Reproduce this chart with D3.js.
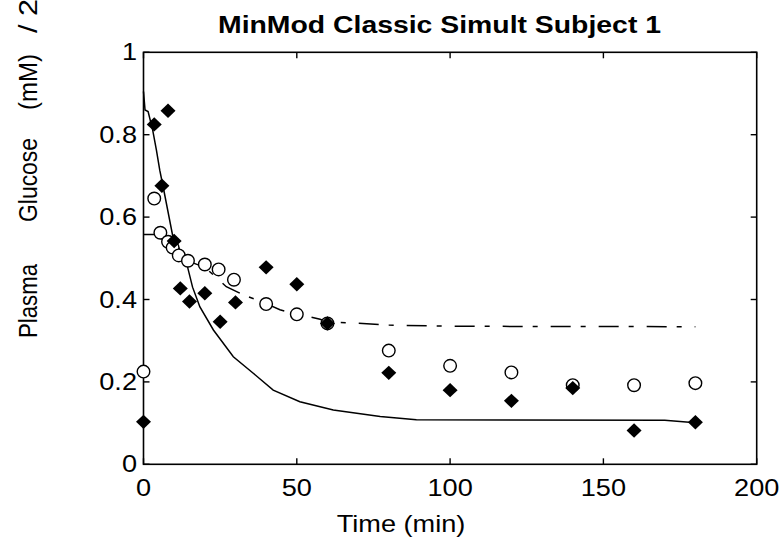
<!DOCTYPE html>
<html><head><meta charset="utf-8">
<script src="https://cdn.jsdelivr.net/npm/d3@7"></script>
<style>body{margin:0;background:#fff}svg{display:block}text{font-family:"Liberation Sans",Arial,Helvetica,sans-serif;fill:#000}</style>
</head><body>
<svg id="c" width="782" height="540"></svg>
<script>
// ---- data ----
const titleText = "MinMod Classic Simult Subject 1";
const xLabel = "Time (min)";
const yLabelWords = ["Plasma", "Glucose", "(mM)", "/ 2"];
const xTicks = [0, 50, 100, 150, 200];
const yTicks = [0, 0.2, 0.4, 0.6, 0.8, 1];
const yTickLabels = ["0", "0.2", "0.4", "0.6", "0.8", "1"];

// filled diamonds
const diamondT = [0, 3.5, 6, 8, 10, 12, 15, 20, 25, 30, 40, 50, 60, 80, 100, 120, 140, 160, 180];
const diamondG = [0.103, 0.825, 0.676, 0.858, 0.542, 0.427, 0.395, 0.415, 0.346, 0.393, 0.478, 0.437, 0.342, 0.222, 0.18, 0.154, 0.185, 0.082, 0.102];
// open circles
const circleT = [0, 3.5, 5.5, 8, 9.5, 11.5, 14.5, 20, 24.5, 29.5, 40, 50, 60, 80, 100, 120, 140, 160, 180];
const circleG = [0.225, 0.645, 0.562, 0.54, 0.526, 0.507, 0.494, 0.485, 0.473, 0.448, 0.389, 0.364, 0.342, 0.276, 0.239, 0.223, 0.192, 0.192, 0.197];
// solid model curve
const solidT = [0, 0.5, 1.5, 3, 4.2, 5.3, 6.5, 9.6, 14, 16, 18.4, 22.8, 29.3, 35.8, 42.3, 51, 61.9, 77.2, 89, 170, 180];
const solidG = [0.905, 0.86, 0.856, 0.811, 0.763, 0.714, 0.67, 0.552, 0.49, 0.43, 0.382, 0.326, 0.261, 0.221, 0.18, 0.152, 0.132, 0.116, 0.108, 0.107, 0.101];
// dash-dot model curve
const dashT = [0, 4, 8, 10, 12, 15, 20, 22, 27, 32.6, 37, 40, 44.5, 50, 53, 57.6, 60, 68, 80, 100, 180];
const dashG = [0.558, 0.558, 0.535, 0.522, 0.506, 0.492, 0.478, 0.465, 0.431, 0.411, 0.399, 0.39, 0.375, 0.364, 0.36, 0.352, 0.345, 0.343, 0.338, 0.335, 0.334];

// ---- drawing ----
const svg = d3.select("#c");
const L = 143.5, R = 756.7, T = 52.3, B = 464.3;
const x = d3.scaleLinear().domain([0, 200]).range([L, R]);
const y = d3.scaleLinear().domain([0, 1]).range([B, T]);
const SX = 1.18, FS = 23;

// frame
svg.append("rect").attr("x", L).attr("y", T).attr("width", R - L).attr("height", B - T)
  .attr("fill", "none").attr("stroke", "#000").attr("stroke-width", 1.6);

const tk = 6;
const g = svg.append("g").attr("stroke", "#000").attr("stroke-width", 1.4);
xTicks.forEach(v => {
  g.append("line").attr("x1", x(v)).attr("x2", x(v)).attr("y1", B).attr("y2", B - tk);
  g.append("line").attr("x1", x(v)).attr("x2", x(v)).attr("y1", T).attr("y2", T + tk);
});
yTicks.forEach(v => {
  g.append("line").attr("x1", L).attr("x2", L + tk).attr("y1", y(v)).attr("y2", y(v));
  g.append("line").attr("x1", R).attr("x2", R - tk).attr("y1", y(v)).attr("y2", y(v));
});

// tick labels
xTicks.forEach(v => {
  svg.append("text").attr("transform", `translate(${x(v)},496) scale(${SX},1)`)
    .attr("text-anchor", "middle").attr("font-size", FS).text(v);
});
yTicks.forEach((v, i) => {
  svg.append("text").attr("transform", `translate(137,${y(v) + 8}) scale(${SX},1)`)
    .attr("text-anchor", "end").attr("font-size", FS).text(yTickLabels[i]);
});

// axis labels
svg.append("text").attr("transform", `translate(401,532) scale(${SX},1)`)
  .attr("text-anchor", "middle").attr("font-size", FS).text(xLabel);
// y label: words spaced as in the reference (bottom position, length along the text)
const yWordPos = [[338, 74], [222, 84], [110, 56], [33, 34]];
yLabelWords.forEach((w, i) => {
  svg.append("text").attr("transform", `translate(37,${yWordPos[i][0]}) scale(1.2,1) rotate(-90)`)
    .attr("text-anchor", "start").attr("font-size", 22)
    .attr("textLength", yWordPos[i][1]).attr("lengthAdjust", "spacingAndGlyphs").text(w);
});

// title
svg.append("text").attr("x", 218).attr("y", 33).attr("font-size", 23).attr("font-weight", "bold")
  .attr("textLength", 443).attr("lengthAdjust", "spacingAndGlyphs").text(titleText);

// curves
const line = d3.line().x(d => x(d[0])).y(d => y(d[1]));
svg.append("path").attr("d", line(solidT.map((t, i) => [t, solidG[i]])))
  .attr("fill", "none").attr("stroke", "#000").attr("stroke-width", 1.5);
svg.append("path").attr("d", line(dashT.map((t, i) => [t, dashG[i]])))
  .attr("fill", "none").attr("stroke", "#000").attr("stroke-width", 1.5)
  .attr("stroke-dasharray", "20,10,5,13");

// circles
svg.append("g").selectAll("circle").data(circleT.map((t, i) => [t, circleG[i]])).join("circle")
  .attr("cx", d => x(d[0])).attr("cy", d => y(d[1])).attr("r", 6.3)
  .attr("fill", "#fff").attr("stroke", "#000").attr("stroke-width", 1.4);

// diamonds
svg.append("g").selectAll("path").data(diamondT.map((t, i) => [t, diamondG[i]])).join("path")
  .attr("d", d => { const cx = x(d[0]), cy = y(d[1]), a = 7.5, b = 7.2;
    return `M${cx},${cy - b}L${cx + a},${cy}L${cx},${cy + b}L${cx - a},${cy}Z`; })
  .attr("fill", "#000");
</script>
</body></html>
